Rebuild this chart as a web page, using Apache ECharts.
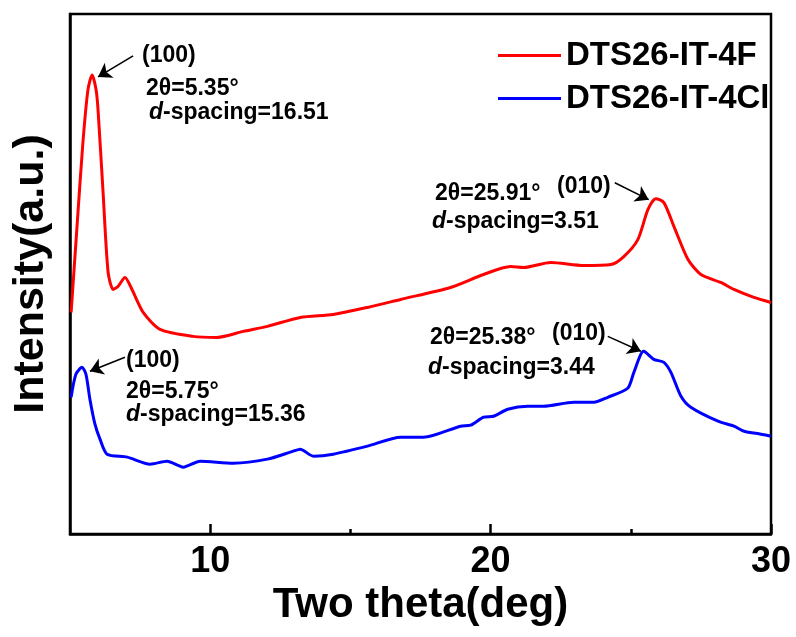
<!DOCTYPE html>
<html>
<head>
<meta charset="utf-8">
<script src="https://cdn.jsdelivr.net/npm/echarts@6/dist/echarts.min.js"></script>
<style>
  html, body { margin: 0; padding: 0; background: #fff; }
  #main { width: 796px; height: 637px; }
</style>
</head>
<body>
<div id="main"></div>
<script type="text/javascript">
// values (intensity in arbitrary units)
var redName = 'DTS26-IT-4F';
var blueName = 'DTS26-IT-4Cl';
var redTheta = [5.04, 5.25, 5.46, 5.64, 5.79, 5.93, 6.0, 6.18, 6.36, 6.54, 6.71, 6.96, 7.21, 7.61, 8.21, 9.39, 10.25, 11.18, 12.04, 13.21, 14.39, 15.61, 16.79, 18.57, 19.75, 20.71, 21.18, 22.14, 23.32, 24.29, 24.75, 25.25, 25.61, 25.89, 26.18, 26.54, 27.04, 27.5, 28.21, 28.68, 29.39, 30.0];
var redIntensity = [222, 308, 392, 445, 460, 445, 425, 342, 262, 245, 248, 257, 245, 222, 205, 198, 197, 203, 208, 217, 220, 227, 235, 247, 260, 268, 267, 272, 269, 270, 278, 295, 325, 336, 332, 308, 275, 260, 252, 245, 237, 232];
var blueTheta = [5.04, 5.21, 5.43, 5.57, 5.71, 5.89, 6.07, 6.32, 7.04, 7.86, 8.46, 9.04, 9.64, 10.82, 12.04, 12.96, 13.21, 13.68, 14.39, 15.61, 16.79, 17.61, 18.93, 19.29, 19.75, 20.11, 20.61, 21.32, 21.89, 22.96, 23.68, 24.18, 24.89, 25.11, 25.46, 25.82, 26.18, 26.43, 26.79, 27.14, 28.11, 28.68, 29.04, 29.64, 30.0];
var blueIntensity = [137, 160, 167, 160, 135, 110, 95, 80, 77, 70, 73, 67, 73, 71, 75, 83, 85, 78, 80, 88, 97, 97, 108, 109, 117, 118, 125, 128, 128, 132, 132, 137, 146, 162, 183, 175, 172, 162, 138, 127, 113, 108, 103, 100, 98];
var majorTicks = [10, 20, 30];
var minorTicks = [15, 25];

function pairs(xs, ys) {
	var out = [];
	for (var i = 0; i < xs.length; i++) out.push([xs[i], ys[i]]);
	return out;
}

var FONT = '"Liberation Sans", Arial, sans-serif';
var myChart = echarts.init(document.getElementById('main'));

var arrowStyle = { color: '#000', width: 1.6, type: 'solid' };
function note(x, y, txt) {
	return {
		type: 'text', x: x, y: y, silent: true,
		style: {
			text: txt, fill: '#000', fontFamily: FONT, fontWeight: 'bold', fontSize: 23,
			verticalAlign: 'middle',
			rich: { i: { fontStyle: 'italic', fontWeight: 'bold', fontSize: 23, fontFamily: FONT } }
		}
	};
}

var option = {
	animation: false,
	backgroundColor: '#fff',
	grid: { left: 70, top: 14, right: 25, bottom: 103, show: true, borderColor: '#000', borderWidth: 2.5 },
	legend: {
		orient: 'vertical', left: 493, top: 34, itemGap: 10,
		itemWidth: 63, itemHeight: 3, icon: 'rect',
		textStyle: { fontFamily: FONT, fontWeight: 'bold', fontSize: 33, color: '#000' },
		data: [redName, blueName]
	},
	xAxis: [
		{
			type: 'value', min: 5, max: 30, interval: 5,
			name: 'Two theta(deg)', nameLocation: 'middle', nameGap: 50,
			nameTextStyle: { fontFamily: FONT, fontWeight: 'bold', fontSize: 42, color: '#000' },
			axisLine: { show: true, onZero: false, lineStyle: { color: '#000', width: 2.5 } },
			axisTick: { show: true, inside: true, length: 10, customValues: majorTicks, lineStyle: { color: '#000', width: 2.5 } },
			axisLabel: { customValues: majorTicks, margin: 10, fontFamily: FONT, fontWeight: 'bold', fontSize: 36, color: '#000' },
			splitLine: { show: false }
		},
		{
			type: 'value', min: 5, max: 30, interval: 5, position: 'bottom',
			axisLine: { show: false },
			axisTick: { show: true, inside: true, length: 5, customValues: minorTicks, lineStyle: { color: '#000', width: 2.5 } },
			axisLabel: { show: false },
			splitLine: { show: false }
		}
	],
	yAxis: {
		type: 'value', min: 0, max: 521,
		name: 'Intensity(a.u.)', nameLocation: 'middle', nameGap: 17,
		nameTextStyle: { fontFamily: FONT, fontWeight: 'bold', fontSize: 43, color: '#000' },
		axisLine: { show: true, lineStyle: { color: '#000', width: 2.5 } },
		axisTick: { show: false },
		axisLabel: { show: false },
		splitLine: { show: false }
	},
	series: [
		{
			name: redName, type: 'line', smooth: 0.25, showSymbol: false,
			lineStyle: { color: '#ff0000', width: 3 }, itemStyle: { color: '#ff0000' },
			data: pairs(redTheta, redIntensity),
			markLine: {
				silent: true, symbol: ['none', 'arrow'], symbolSize: 13,
				lineStyle: arrowStyle, label: { show: false },
				data: [
					[{ coord: [7.25, 479] }, { coord: [6.0, 458] }],
					[{ coord: [24.43, 352] }, { coord: [25.64, 335] }]
				]
			}
		},
		{
			name: blueName, type: 'line', smooth: 0.25, showSymbol: false,
			lineStyle: { color: '#0000ff', width: 3 }, itemStyle: { color: '#0000ff' },
			data: pairs(blueTheta, blueIntensity),
			markLine: {
				silent: true, symbol: ['none', 'arrow'], symbolSize: 13,
				lineStyle: arrowStyle, label: { show: false },
				data: [
					[{ coord: [6.96, 177] }, { coord: [5.71, 163] }],
					[{ coord: [24.18, 198] }, { coord: [25.36, 183] }]
				]
			}
		}
	],
	graphic: [
		note(142, 56, '(100)'),
		note(146, 89, '2θ=5.35°'),
		note(149, 113, '{i|d}-spacing=16.51'),
		note(557, 187, '(010)'),
		note(435, 194, '2θ=25.91°'),
		note(432, 222, '{i|d}-spacing=3.51'),
		note(126, 361, '(100)'),
		note(126, 392, '2θ=5.75°'),
		note(126, 415, '{i|d}-spacing=15.36'),
		note(552, 334, '(010)'),
		note(430, 338, '2θ=25.38°'),
		note(428, 368, '{i|d}-spacing=3.44')
	]
};
myChart.setOption(option);
</script>
</body>
</html>
